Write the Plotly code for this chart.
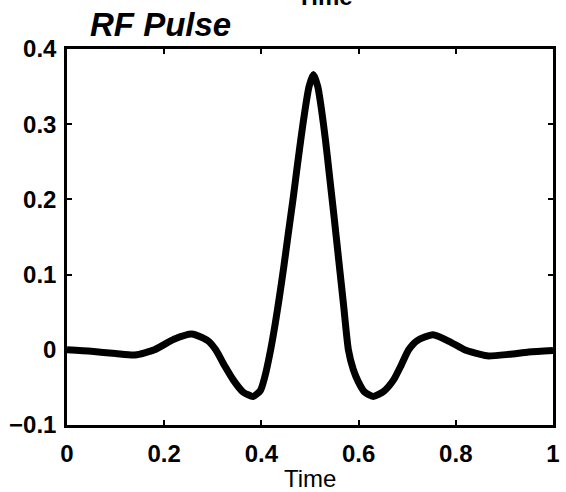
import plotly.graph_objects as go

# Read-off values of the RF pulse curve
time_vals = [0.00, 0.05, 0.10, 0.14, 0.18, 0.22, 0.257, 0.29, 0.306, 0.325, 0.342,
             0.362, 0.383, 0.398, 0.407, 0.419, 0.428, 0.437, 0.446, 0.455, 0.465,
             0.474, 0.482, 0.490, 0.498, 0.507, 0.516, 0.524, 0.532, 0.540, 0.549,
             0.559, 0.569, 0.579, 0.589, 0.599, 0.612, 0.630, 0.652, 0.672, 0.688,
             0.703, 0.72, 0.753, 0.79, 0.818, 0.864, 0.91, 0.95, 1.00]
pulse_vals = [0.000, -0.002, -0.005, -0.007, 0.000, 0.014, 0.021, 0.012, 0.000, -0.022, -0.040,
              -0.056, -0.062, -0.054, -0.036, 0.000, 0.033, 0.070, 0.110, 0.153, 0.200,
              0.245, 0.284, 0.320, 0.350, 0.366, 0.350, 0.318, 0.278, 0.232, 0.180,
              0.120, 0.060, 0.000, -0.026, -0.042, -0.056, -0.062, -0.055, -0.040, -0.020,
              0.000, 0.012, 0.020, 0.010, 0.000, -0.008, -0.006, -0.003, -0.001]

x_ticks = [0, 0.2, 0.4, 0.6, 0.8, 1]
x_tick_labels = ["0", "0.2", "0.4", "0.6", "0.8", "1"]
y_ticks = [-0.1, 0, 0.1, 0.2, 0.3, 0.4]
y_tick_labels = ["\u22120.1", "0", "0.1", "0.2", "0.3", "0.4"]

FONT = "Liberation Sans, Arial, Helvetica, sans-serif"

fig = go.Figure()
fig.add_trace(go.Scatter(
    x=time_vals, y=pulse_vals, mode="lines",
    line=dict(color="black", width=7, shape="spline", smoothing=0.6),
    showlegend=False, hoverinfo="skip",
))

axis_common = dict(
    showline=True, linecolor="black", linewidth=2.5, mirror="ticks",
    ticks="inside", ticklen=5, tickwidth=2, tickcolor="black",
    showgrid=False, zeroline=False,
    tickfont=dict(family=FONT, size=24, color="black", weight="bold"),
)

fig.update_xaxes(range=[0, 1], tickvals=x_ticks, ticktext=x_tick_labels,
                 ticklabelstandoff=5, **axis_common)
fig.update_yaxes(range=[-0.1, 0.4], tickvals=y_ticks, ticktext=y_tick_labels,
                 ticklabelstandoff=3, **axis_common)

fig.update_layout(
    width=566, height=492,
    margin=dict(l=67, r=6, t=49, b=67),
    paper_bgcolor="white", plot_bgcolor="white",
    annotations=[
        dict(text="<b><i>RF Pulse</i></b>", xref="paper", yref="paper",
             x=(88 - 67) / 493, y=(425 - 45) / 376, xanchor="left", yanchor="bottom",
             showarrow=False, font=dict(family=FONT, size=33, color="black")),
        dict(text="Time", xref="paper", yref="paper",
             x=(313 - 67) / 493, y=(425 - 478) / 376, xanchor="center", yanchor="middle",
             showarrow=False, font=dict(family=FONT, size=24, color="black")),
        dict(text="Time", xref="paper", yref="paper",
             x=(329 - 67) / 493, y=(425 - 12) / 376, xanchor="center", yanchor="bottom",
             showarrow=False, font=dict(family=FONT, size=24, color="black", weight="bold")),
    ],
)

fig.write_html(
    "out.html",
    config={"displayModeBar": False},
    post_script="document.body.style.margin='0';document.body.style.overflow='hidden';",
)
